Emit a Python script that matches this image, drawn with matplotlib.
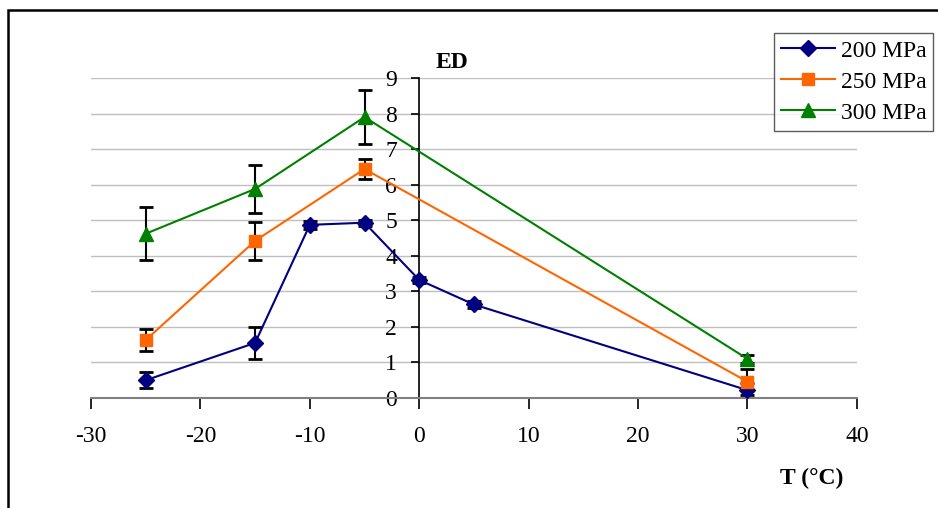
"""
ED versus temperature for three pressures, with error bars.

Output: out.png
"""

import matplotlib

matplotlib.use("Agg")
import matplotlib.pyplot as plt
from matplotlib.patches import Rectangle

plt.rcParams["font.family"] = ["Liberation Serif", "DejaVu Serif"]
plt.rcParams["axes.unicode_minus"] = False

# 200 MPa
T_200 = [-25, -15, -10, -5, 0, 5, 30]
ED_200 = [0.50, 1.55, 4.87, 4.93, 3.32, 2.63, 0.22]
ERR_200 = [0.22, 0.45, 0.12, 0.08, 0.08, 0.10, 0.21]

# 250 MPa
T_250 = [-25, -15, -5, 30]
ED_250 = [1.63, 4.42, 6.44, 0.46]
ERR_250 = [0.30, 0.53, 0.27, 0.37]

# 300 MPa
T_300 = [-25, -15, -5, 30]
ED_300 = [4.62, 5.88, 7.90, 1.10]
ERR_300 = [0.75, 0.67, 0.77, 0.12]

X_TICKS = [-30, -20, -10, 0, 10, 20, 30, 40]
Y_TICKS = list(range(0, 10))

SERIES = [
    ("200 MPa", T_200, ED_200, ERR_200, "#000080", "D", 8),
    ("250 MPa", T_250, ED_250, ERR_250, "#FF6600", "s", 8.5),
    ("300 MPa", T_300, ED_300, ERR_300, "#008000", "^", 10.5),
]

FS = 17


def main() -> None:
    fig = plt.figure(figsize=(9.38, 5.08), dpi=100)
    ax = fig.add_axes([0.097, 0.2165, 0.8165, 0.630])

    # outer chart frame (runs off the right and bottom edges)
    fig.patches.append(
        Rectangle((8 / 938, -0.05), 1.1, 1 - 10 / 508 + 0.05,
                  transform=fig.transFigure, fill=False,
                  edgecolor="black", linewidth=1.8)
    )

    for y in Y_TICKS[1:]:
        ax.axhline(y, color="#bfbfbf", linewidth=1.0, zorder=0)

    handles = []
    for label, xs, ys, errs, color, marker, ms in SERIES:
        ax.errorbar(xs, ys, yerr=errs, fmt="none", ecolor="black",
                    elinewidth=1.5, capsize=5, capthick=2.0, zorder=2)
        (h,) = ax.plot(xs, ys, color=color, linewidth=1.5, marker=marker,
                       markersize=ms, markerfacecolor=color,
                       markeredgecolor=color, label=label, zorder=3)
        handles.append(h)

    ax.set_xlim(-30, 40)
    ax.set_ylim(0, 9)
    ax.set_xticks(X_TICKS)
    ax.set_yticks(Y_TICKS)

    ax.spines["top"].set_visible(False)
    ax.spines["right"].set_visible(False)
    ax.spines["left"].set_position(("data", 0))
    ax.spines["left"].set_color("black")
    ax.spines["left"].set_linewidth(1.2)
    ax.spines["bottom"].set_color("#808080")
    ax.spines["bottom"].set_linewidth(1.5)

    ax.tick_params(axis="x", direction="out", length=8, width=1.2,
                   color="black", labelsize=FS, pad=12)
    ax.tick_params(axis="y", direction="out", length=6, width=1.2,
                   color="black", labelsize=FS, pad=10)

    fig.text(452 / 938, 1 - 62 / 508, "ED", fontsize=FS,
             fontweight="bold", ha="center", va="center")
    fig.text(812 / 938, 1 - 478 / 508, "T (°C)", fontsize=FS,
             fontweight="bold", ha="center", va="center")

    leg = fig.legend(handles=handles, loc="upper left",
                     bbox_to_anchor=(774 / 938, 1 - 33 / 508),
                     fontsize=FS, frameon=True, fancybox=False,
                     edgecolor="#333333", handlelength=2.3, handletextpad=0.22,
                     borderpad=0.3, labelspacing=0.4, borderaxespad=0)
    leg.get_frame().set_linewidth(1.0)

    fig.savefig("out.png", dpi=100)
    plt.close(fig)


if __name__ == "__main__":
    main()
